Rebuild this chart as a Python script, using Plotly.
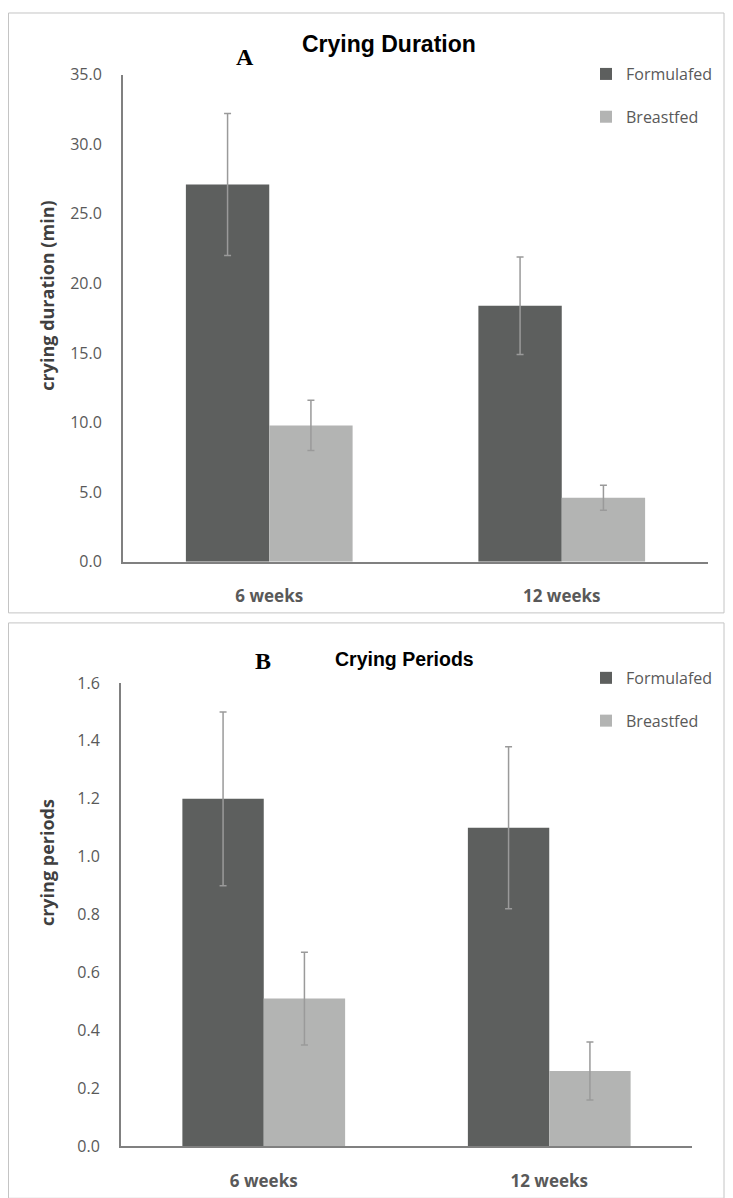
import plotly.graph_objects as go

# measured page mapping: page_x = fig_x + OX ; page_y = fig_y * SY + OY
OX, OY, SY = 8.0, 18.5, 0.981
W, H = 725, 1200

categories = ["6 weeks", "12 weeks"]
series_names = ["Formulafed", "Breastfed"]

duration_formula = [27.1, 18.4]
duration_formula_err = [5.1, 3.5]
duration_breast = [9.8, 4.6]
duration_breast_err = [1.8, 0.9]

periods_formula = [1.20, 1.10]
periods_formula_err = [0.30, 0.28]
periods_breast = [0.51, 0.26]
periods_breast_err = [0.16, 0.10]

duration_ticks = [0, 5, 10, 15, 20, 25, 30, 35]
periods_ticks = [0.0, 0.2, 0.4, 0.6, 0.8, 1.0, 1.2, 1.4, 1.6]

DARK = "#5d5f5e"
LIGHT = "#b3b4b3"
ERR = "#9a9a9a"
TXT = "#595959"


def px_x(p):
    return (p - OX) / W


def px_y(p):
    return 1 - ((p - OY) / SY) / H


fig = go.Figure()


def add_pair(vals_f, err_f, vals_b, err_b, xa, ya, legend):
    fig.add_trace(go.Bar(
        x=categories, y=vals_f, name=series_names[0],
        marker=dict(color=DARK, line=dict(width=0)),
        error_y=dict(type="data", array=err_f, color=ERR, thickness=1.5, width=3.5),
        xaxis=xa, yaxis=ya, legend=legend, legendgroup=legend + "f",
    ))
    fig.add_trace(go.Bar(
        x=categories, y=vals_b, name=series_names[1],
        marker=dict(color=LIGHT, line=dict(width=0)),
        error_y=dict(type="data", array=err_b, color=ERR, thickness=1.5, width=3.5),
        xaxis=xa, yaxis=ya, legend=legend, legendgroup=legend + "b",
    ))


add_pair(duration_formula, duration_formula_err, duration_breast, duration_breast_err, "x", "y", "legend")
add_pair(periods_formula, periods_formula_err, periods_breast, periods_breast_err, "x2", "y2", "legend2")

xcommon = dict(
    showline=True, linecolor="#808080", linewidth=2, showgrid=False, zeroline=False,
    ticks="", ticklabelstandoff=18,
    tickfont=dict(family="Open Sans", size=17, color=TXT, weight="bold"),
)
ycommon = dict(
    showline=True, linecolor="#808080", linewidth=2, showgrid=False, zeroline=False,
    ticks="", ticklabelstandoff=16, tickformat=".1f",
    tickfont=dict(family="Open Sans", size=16, color=TXT),
)

legend_font = dict(family="Open Sans", size=16, color=TXT)

fig.update_layout(
    width=W, height=H,
    margin=dict(l=0, r=0, t=0, b=0),
    paper_bgcolor="white", plot_bgcolor="white",
    barmode="group", bargap=0.43, bargroupgap=0,
    showlegend=True,
    xaxis=dict(domain=[px_x(123), px_x(708)], anchor="y", **xcommon),
    yaxis=dict(domain=[px_y(561), px_y(74)], anchor="x", range=[0, 35],
               tickvals=duration_ticks, **ycommon),
    xaxis2=dict(domain=[px_x(121), px_x(692)], anchor="y2", **xcommon),
    yaxis2=dict(domain=[px_y(1145), px_y(682)], anchor="x2", range=[0, 1.6],
                tickvals=periods_ticks, **ycommon),
    legend=dict(x=px_x(586), y=px_y(56.5), xanchor="left", yanchor="top",
                font=legend_font,
                tracegroupgap=19, itemwidth=30, bgcolor="rgba(0,0,0,0)"),
    legend2=dict(x=px_x(586), y=px_y(660), xanchor="left", yanchor="top",
                 font=legend_font,
                 tracegroupgap=19, itemwidth=30, bgcolor="rgba(0,0,0,0)"),
    shapes=[
        dict(type="rect", xref="paper", yref="paper",
             x0=px_x(8.5), x1=px_x(724), y0=px_y(612), y1=px_y(12.5),
             line=dict(color="#c4c4c4", width=1), fillcolor="rgba(0,0,0,0)", layer="below"),
        dict(type="rect", xref="paper", yref="paper",
             x0=px_x(8.5), x1=px_x(724), y0=px_y(1197), y1=px_y(622),
             line=dict(color="#c4c4c4", width=1), fillcolor="rgba(0,0,0,0)", layer="below"),
    ],
    annotations=[
        dict(text="<b>Crying Duration</b>", x=px_x(389), y=px_y(43.5), xref="paper", yref="paper",
             showarrow=False, xanchor="center", yanchor="middle",
             font=dict(family="Liberation Sans", size=23, color="#000000")),
        dict(text="<b>A</b>", x=px_x(244.5), y=px_y(56), xref="paper", yref="paper",
             showarrow=False, xanchor="center", yanchor="middle",
             font=dict(family="Liberation Serif", size=24, color="#000000")),
        dict(text="<b>Crying Periods</b>", x=px_x(404), y=px_y(657.6), xref="paper", yref="paper",
             showarrow=False, xanchor="center", yanchor="middle",
             font=dict(family="Liberation Sans", size=19.5, color="#000000")),
        dict(text="<b>B</b>", x=px_x(263), y=px_y(660.5), xref="paper", yref="paper",
             showarrow=False, xanchor="center", yanchor="middle",
             font=dict(family="Liberation Serif", size=24, color="#000000")),
        dict(text="<b>crying duration (min)</b>", x=px_x(47), y=px_y(295), xref="paper", yref="paper",
             showarrow=False, textangle=-90, xanchor="center", yanchor="middle",
             font=dict(family="Open Sans", size=18, color="#404040")),
        dict(text="<b>crying periods</b>", x=px_x(47), y=px_y(862), xref="paper", yref="paper",
             showarrow=False, textangle=-90, xanchor="center", yanchor="middle",
             font=dict(family="Open Sans", size=18, color="#404040")),
    ],
)

fig.write_html("out.html")
